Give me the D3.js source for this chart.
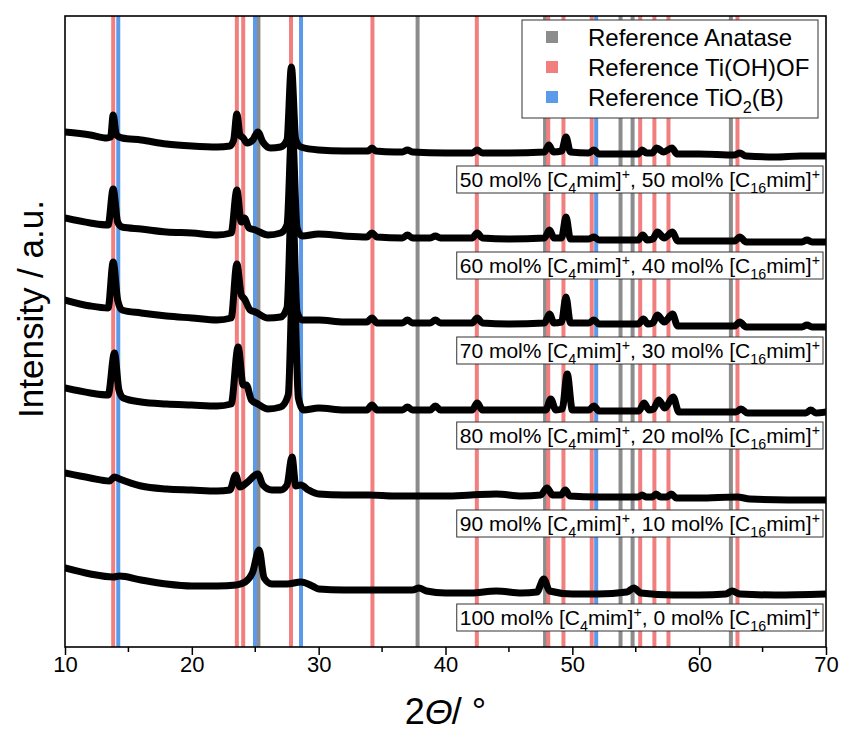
<!DOCTYPE html>
<html>
<head>
<meta charset="utf-8">
<script src="https://cdn.jsdelivr.net/npm/d3@7"></script>
<style>
  body { margin: 0; background: #fff; }
  svg { font-family: 'Liberation Sans', Arial, sans-serif; }
</style>
</head>
<body>
<svg id="chart"></svg>
<script>
// reference reflection positions (2 theta, deg)
const anatasePeaks = [25.25, 37.8, 47.85, 53.8, 54.75, 62.5];
const tiohofPeaks = [13.8, 23.55, 24.05, 27.82, 34.24, 42.47, 48.1, 49.3, 51.53, 55.35, 56.47, 57.58, 63.02];
const tio2bPeaks = [14.2, 24.98, 28.61, 51.88];

const legendNames = ['Reference Anatase', 'Reference Ti(OH)OF', 'Reference TiO2(B)'];
const legendColors = ['#8c8c8c', '#f27f7f', '#5b9aea'];

// mol% of the two cations for each pattern (top to bottom)
const c4Share = [50, 60, 70, 80, 90, 100];
const c16Share = [50, 40, 30, 20, 10, 0];

const xTicks = [10, 20, 30, 40, 50, 60, 70];
const xMinorTicks = [15, 25, 35, 45, 55, 65];

// patterns [2theta, intensity a.u.] incl. stacking offset
const pattern50 = [[10,515],[12,512],[13.3,509],[13.6,510],[13.8,532],[14.05,512],[14.5,509],[16,507],[18,503],[20,501],[22,500],[23.0,501],[23.3,507],[23.55,533],[23.8,512],[24.05,509],[24.35,504],[24.8,507],[25.2,515],[25.6,505],[26.2,499],[27.0,500],[27.5,507],[27.85,580],[28.2,507],[28.6,500],[30,497],[32,496],[33.9,496],[34.2,499],[34.5,496],[36,495],[36.6,495],[37.0,497],[37.4,495],[40,494],[42.1,494],[42.5,497],[42.9,494],[45,494],[47.8,495],[48.15,502],[48.5,495],[49.15,496],[49.5,510],[49.85,495],[51.3,494],[51.7,497],[52.1,493],[55.2,493],[55.5,497],[55.85,494],[56.3,494],[56.65,499],[57.2,495],[57.85,499],[58.25,493],[60,493],[62.8,492],[63.2,494],[63.7,491],[66,490],[68,491],[70,491]];
const pattern60 = [[10,429],[12,424],[13.4,422],[13.8,458],[14.15,425],[14.5,420],[16,418],[18,415],[20,414],[22,412],[23.1,414],[23.55,457],[23.9,425],[24.15,429],[24.5,419],[25.0,417],[26.0,412],[27.0,414],[27.5,422],[27.9,522],[28.3,419],[28.7,411],[30,413],[32,411],[33.8,410],[34.2,414],[34.6,410],[36.6,409],[37.0,412],[37.4,409],[38.8,409],[39.2,411],[39.6,409],[42.1,409],[42.5,414],[42.9,409],[45,408],[47.8,409],[48.2,417],[48.55,409],[49.15,409],[49.5,430],[49.85,408],[51.3,408],[51.7,410],[52.1,407],[55.2,407],[55.55,412],[55.9,407],[56.35,408],[56.7,415],[57.25,409],[57.9,415],[58.3,406],[60,406],[62.8,406],[63.2,410],[63.7,405],[68.1,405],[68.5,407],[68.9,405],[70,405]];
const pattern70 = [[10,347],[12,341],[13.4,339],[13.8,385],[14.15,347],[14.5,337],[16,334],[18,331],[20,329],[22,327],[23.1,329],[23.55,383],[23.9,352],[24.15,348],[24.6,337],[25.0,335],[26,329],[27.0,330],[27.5,339],[27.9,457],[28.3,335],[28.7,327],[30,327],[32,325],[33.8,325],[34.2,329],[34.6,324],[36.6,324],[37.0,327],[37.4,324],[38.8,324],[39.2,327],[39.6,324],[42.1,324],[42.5,329],[42.9,324],[45,323],[47.8,324],[48.2,333],[48.55,324],[49.15,325],[49.5,350],[49.85,324],[51.3,324],[51.7,327],[52.1,323],[55.2,323],[55.6,328],[55.95,323],[56.35,324],[56.7,332],[57.25,325],[57.9,333],[58.3,321],[60,321],[62.8,321],[63.2,325],[63.7,320],[68.1,320],[68.5,322],[68.9,320],[70,320]];
const pattern80 = [[10,259],[12,254],[13.4,252],[13.9,294],[14.25,257],[14.6,249],[16,245],[18,243],[20,242],[22,241],[23.1,243],[23.65,300],[24.05,262],[24.3,262],[24.7,247],[25.2,243],[26,238],[27.0,240],[27.6,252],[28.0,382],[28.4,249],[28.8,237],[30,239],[32,237],[33.8,237],[34.2,242],[34.6,237],[36.6,237],[37.0,240],[37.4,237],[38.8,237],[39.2,241],[39.6,237],[42.1,237],[42.5,244],[42.9,237],[45,237],[47.9,237],[48.3,248],[48.7,237],[49.2,238],[49.6,273],[50.0,237],[51.3,237],[51.7,241],[52.1,236],[55.25,236],[55.65,244],[56.05,237],[56.4,238],[56.8,247],[57.3,239],[57.95,250],[58.4,235],[60,235],[62.9,235],[63.3,238],[63.8,234],[68.4,234],[68.8,237],[69.2,234],[70,235]];
const pattern90 = [[10,174],[12,169],[13.5,166],[13.9,170],[14.3,168],[16,161],[18,158],[20,157],[22,156],[23.0,157],[23.45,172],[23.8,160],[24.3,164],[25.2,173],[25.6,162],[26.3,157],[27.0,157],[27.5,162],[27.9,190],[28.2,161],[28.6,162],[29.2,157],[30,153],[32,152],[34,152],[36,151],[38,151],[40,151],[42,152],[44,153],[46,151],[47.5,152],[48.0,159],[48.45,152],[49.1,152],[49.45,157],[49.8,151],[52,150],[55.2,150],[55.5,152],[55.8,150],[56.3,150],[56.6,153],[56.95,150],[57.45,150],[57.8,153],[58.2,149],[60,149],[63,150],[64,148],[67,147],[70,147]];
const pattern100 = [[10,79],[12,73],[13.8,70],[14.3,71],[16,67],[18,63],[20,61],[22,61],[23.5,62],[24.2,65],[24.8,75],[25.3,97],[25.7,69],[26.3,63],[27.5,63],[28.6,65],[29.5,61],[30,58],[32,57],[34,57],[36,57],[37.4,57],[37.9,59],[38.5,56],[40,54],[42,54],[44,56],[46,54],[47.2,55],[47.75,68],[48.2,56],[50,53],[52,53],[54.3,55],[54.85,59],[55.4,54],[58,52],[60,52],[62.1,53],[62.6,56],[63.2,53],[66,52],[70,53]];

const patterns = [pattern50, pattern60, pattern70, pattern80, pattern90, pattern100];
const refSets = [anatasePeaks, tiohofPeaks, tio2bPeaks];

const width = 843;
const height = 735;
const margin = { top: 16, right: 17, bottom: 88, left: 65 };

const svg = d3.select('#chart').attr('width', width).attr('height', height);

const xScale = d3.scaleLinear().domain([10, 70]).range([margin.left, width - margin.right]);
const yScale = d3.scaleLinear().domain([0, 631]).range([height - margin.bottom, margin.top]);

svg.append('defs').append('clipPath').attr('id', 'clip')
  .append('rect')
  .attr('x', margin.left).attr('y', margin.top)
  .attr('width', width - margin.left - margin.right)
  .attr('height', height - margin.top - margin.bottom);

// reference lines
refSets.forEach((peaks, i) => {
  svg.append('g')
    .selectAll('line')
    .data(peaks)
    .join('line')
    .attr('x1', d => xScale(d)).attr('x2', d => xScale(d))
    .attr('y1', yScale(0)).attr('y2', yScale(631))
    .attr('stroke', legendColors[i])
    .attr('stroke-width', 4);
});

// XRD patterns
const line = d3.line()
  .x(d => xScale(d[0]))
  .y(d => yScale(d[1]))
  .curve(d3.curveMonotoneX);

svg.append('g')
  .attr('clip-path', 'url(#clip)')
  .selectAll('path')
  .data(patterns)
  .join('path')
  .attr('d', line)
  .attr('fill', 'none')
  .attr('stroke', '#000')
  .attr('stroke-width', 7)
  .attr('stroke-linejoin', 'round')
  .attr('stroke-linecap', 'round');

// rich text helper: parts of [text, 'sub' | 'sup' | null]
const addRich = (sel, parts, size) => {
  let shift = 0;
  parts.forEach(([t, kind]) => {
    const ts = sel.append('tspan').text(t);
    let target = 0;
    if (kind === 'sub') target = size * 0.3;
    if (kind === 'sup') target = -size * 0.4;
    ts.attr('dy', target - shift);
    shift = target;
    if (kind) ts.attr('font-size', size * 0.68);
  });
};

// sample labels
const labelSize = 21;
patterns.forEach((p, i) => {
  const cy = yScale(p[p.length - 1][1]) + 23.5;
  const g = svg.append('g');
  const box = g.append('rect')
    .attr('fill', '#fff')
    .attr('stroke', '#333')
    .attr('stroke-width', 1);
  const txt = g.append('text')
    .attr('x', 820)
    .attr('y', cy + labelSize * 0.36)
    .attr('text-anchor', 'end')
    .attr('font-size', labelSize);
  addRich(txt, [
    [c4Share[i] + ' mol% [C', null], ['4', 'sub'], ['mim]', null], ['+', 'sup'],
    [', ' + c16Share[i] + ' mol% [C', null], ['16', 'sub'], ['mim]', null], ['+', 'sup']
  ], labelSize);
  const w = txt.node().getComputedTextLength();
  box.attr('x', 820 - w - 3).attr('y', cy - 13.5)
    .attr('width', w + 6).attr('height', 27);
});

// legend
const legend = svg.append('g');
legend.append('rect')
  .attr('x', 522).attr('y', 20).attr('width', 296).attr('height', 98)
  .attr('fill', '#fff').attr('stroke', '#333').attr('stroke-width', 1);
legendNames.forEach((name, i) => {
  const cy = 37 + i * 30;
  legend.append('rect')
    .attr('x', 546).attr('y', cy - 6).attr('width', 12).attr('height', 12)
    .attr('fill', legendColors[i]);
  const t = legend.append('text')
    .attr('x', 588).attr('y', cy + 8.5)
    .attr('font-size', 24);
  if (name.includes('TiO2')) {
    addRich(t, [['Reference TiO', null], ['2', 'sub'], ['(B)', null]], 24);
  } else {
    t.text(name);
  }
});

// axes
const xAxis = d3.axisBottom(xScale).tickValues(xTicks).tickFormat(d3.format('d'))
  .tickSize(8).tickPadding(1);
const gx = svg.append('g')
  .attr('transform', 'translate(0,' + (height - margin.bottom) + ')')
  .call(xAxis);
gx.selectAll('text').attr('font-size', 22).attr('fill', '#000').attr('font-family', "'Liberation Sans', Arial, sans-serif");
gx.selectAll('line').attr('stroke-width', 1.5);
gx.select('.domain').remove();

svg.append('g')
  .selectAll('line')
  .data(xMinorTicks)
  .join('line')
  .attr('x1', d => xScale(d)).attr('x2', d => xScale(d))
  .attr('y1', height - margin.bottom).attr('y2', height - margin.bottom + 5)
  .attr('stroke', '#000').attr('stroke-width', 1.5);

// frame
svg.append('rect')
  .attr('x', margin.left).attr('y', margin.top)
  .attr('width', width - margin.left - margin.right)
  .attr('height', height - margin.top - margin.bottom)
  .attr('fill', 'none').attr('stroke', '#000').attr('stroke-width', 1.6);

// axis titles
const xt = svg.append('text')
  .attr('x', (margin.left + width - margin.right) / 2)
  .attr('y', 724)
  .attr('text-anchor', 'middle')
  .attr('font-size', 36);
xt.append('tspan').text('2');
xt.append('tspan').attr('font-style', 'italic').text('\u0398');
xt.append('tspan').attr('dx', -1).text('/ \u00b0');

svg.append('text')
  .attr('transform', 'translate(43,' + 309 + ') rotate(-90)')
  .attr('text-anchor', 'middle')
  .attr('font-size', 35)
  .text('Intensity / a.u.');
</script>
</body>
</html>
